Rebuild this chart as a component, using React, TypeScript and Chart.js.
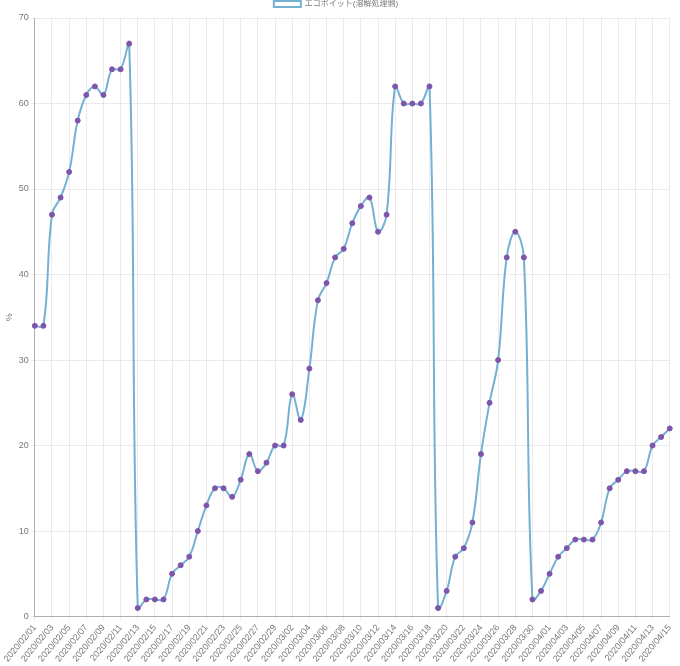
import React, { useEffect, useRef } from "react";
import { Chart, registerables } from "chart.js";

Chart.register(...registerables);

const labels: string[] = [
  "2020/02/01","2020/02/02","2020/02/03","2020/02/04","2020/02/05","2020/02/06","2020/02/07","2020/02/08","2020/02/09","2020/02/10",
  "2020/02/11","2020/02/12","2020/02/13","2020/02/14","2020/02/15","2020/02/16","2020/02/17","2020/02/18","2020/02/19","2020/02/20",
  "2020/02/21","2020/02/22","2020/02/23","2020/02/24","2020/02/25","2020/02/26","2020/02/27","2020/02/28","2020/02/29","2020/03/01",
  "2020/03/02","2020/03/03","2020/03/04","2020/03/05","2020/03/06","2020/03/07","2020/03/08","2020/03/09","2020/03/10","2020/03/11",
  "2020/03/12","2020/03/13","2020/03/14","2020/03/15","2020/03/16","2020/03/17","2020/03/18","2020/03/19","2020/03/20","2020/03/21",
  "2020/03/22","2020/03/23","2020/03/24","2020/03/25","2020/03/26","2020/03/27","2020/03/28","2020/03/29","2020/03/30","2020/03/31",
  "2020/04/01","2020/04/02","2020/04/03","2020/04/04","2020/04/05","2020/04/06","2020/04/07","2020/04/08","2020/04/09","2020/04/10",
  "2020/04/11","2020/04/12","2020/04/13","2020/04/14","2020/04/15",
];

const seriesName = "エコポイット(溶解処理側)";

const values: number[] = [
  34, 34, 47, 49, 52, 58, 61, 62, 61, 64,
  64, 67, 1, 2, 2, 2, 5, 6, 7, 10,
  13, 15, 15, 14, 16, 19, 17, 18, 20, 20,
  26, 23, 29, 37, 39, 42, 43, 46, 48, 49,
  45, 47, 62, 60, 60, 60, 62, 1, 3, 7,
  8, 11, 19, 25, 30, 42, 45, 42, 2, 3,
  5, 7, 8, 9, 9, 9, 11, 15, 16, 17,
  17, 17, 20, 21, 22,
];

const yMin = 0;
const yMax = 70;
const yStep = 10;
const yTitle = "%";

export default function App() {
  const ref = useRef<HTMLCanvasElement | null>(null);

  useEffect(() => {
    document.body.style.margin = "0";
    if (!ref.current) return;
    const font = "'Helvetica Neue', Helvetica, Arial, 'Noto Sans CJK JP', sans-serif";
    const chart = new Chart(ref.current, {
      type: "line",
      data: {
        labels,
        datasets: [
          {
            label: seriesName,
            data: values,
            borderColor: "rgb(116,176,212)",
            backgroundColor: "rgba(255,255,255,1)",
            borderWidth: 2,
            pointRadius: 2.5,
            pointBorderWidth: 1,
            pointBackgroundColor: "rgb(125,85,170)",
            pointBorderColor: "rgb(125,85,170)",
            tension: 0.4,
            fill: false,
          },
        ],
      },
      options: {
        animation: false,
        responsive: false,
        maintainAspectRatio: false,
        layout: { padding: { right: 10, top: 0, left: 2, bottom: 0 } },
        plugins: {
          legend: {
            display: true,
            position: "top",
            labels: {
              color: "#777",
              font: { family: font, size: 8 },
              boxWidth: 27,
              boxHeight: 6,
              padding: 0,
            },
          },
          tooltip: { enabled: false },
        },
        scales: {
          x: {
            grid: { color: "rgba(0,0,0,0.08)", drawTicks: true, tickLength: 4 },
            border: { color: "rgba(0,0,0,0.25)" },
            ticks: {
              color: "#777",
              font: { family: font, size: 9 },
              minRotation: 50,
              maxRotation: 50,
              autoSkip: true,
              autoSkipPadding: 0,
              maxTicksLimit: 38,
              padding: 2,
            },
          },
          y: {
            min: yMin,
            max: yMax,
            grid: { color: "rgba(0,0,0,0.08)", tickLength: 4 },
            border: { color: "rgba(0,0,0,0.25)" },
            ticks: {
              stepSize: yStep,
              color: "#777",
              font: { family: font, size: 9 },
              padding: 2,
            },
            title: {
              display: true,
              text: yTitle,
              color: "#777",
              font: { family: font, size: 9 },
              padding: 2,
            },
          },
        },
      },
    });
    return () => chart.destroy();
  }, []);

  return (
    <div style={{ width: 680, height: 666 }}>
      <canvas ref={ref} width={680} height={666} />
    </div>
  );
}
